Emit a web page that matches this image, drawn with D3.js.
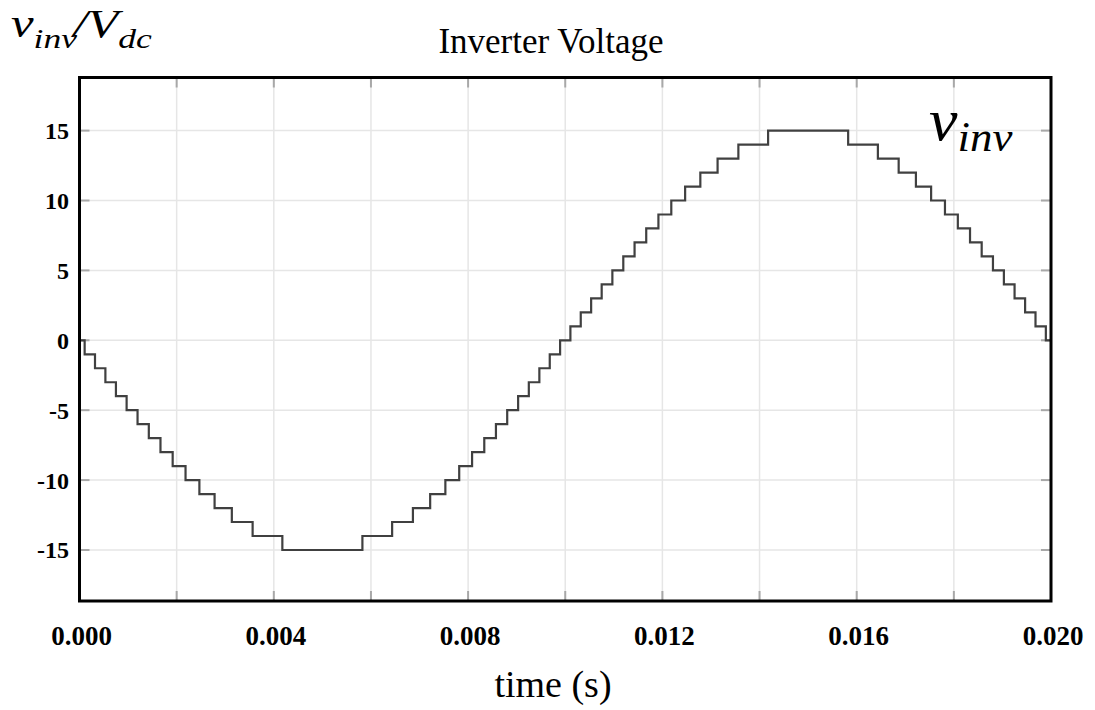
<!DOCTYPE html>
<html>
<head>
<meta charset="utf-8">
<script src="https://cdn.jsdelivr.net/npm/d3@7"></script>
<style>
  body { margin: 0; background: #fff; }
  svg text { font-family: "Liberation Serif", "Times New Roman", serif; }
</style>
</head>
<body>
<div id="chart"></div>
<script>
// step instants (s) of the inverter staircase and the level taken after each one
const stepTimes = [
    0.000106, 0.000319, 0.000533, 0.000750, 0.000970, 0.001195, 0.001427, 0.001667,
    0.001918, 0.002183, 0.002468, 0.002781, 0.003136, 0.003564, 0.004176,
    0.005824, 0.006436, 0.006864, 0.007219, 0.007532, 0.007817, 0.008082, 0.008333,
    0.008573, 0.008805, 0.009030, 0.009250, 0.009467, 0.009681, 0.009894,
    0.010106, 0.010319, 0.010533, 0.010750, 0.010970, 0.011195, 0.011427, 0.011667,
    0.011918, 0.012183, 0.012468, 0.012781, 0.013136, 0.013564, 0.014176,
    0.015824, 0.016436, 0.016864, 0.017219, 0.017532, 0.017817, 0.018082, 0.018333,
    0.018573, 0.018805, 0.019030, 0.019250, 0.019467, 0.019681, 0.019894
];
const stepLevels = [
    -1, -2, -3, -4, -5, -6, -7, -8, -9, -10, -11, -12, -13, -14, -15,
    -14, -13, -12, -11, -10, -9, -8, -7, -6, -5, -4, -3, -2, -1, 0,
    1, 2, 3, 4, 5, 6, 7, 8, 9, 10, 11, 12, 13, 14, 15,
    14, 13, 12, 11, 10, 9, 8, 7, 6, 5, 4, 3, 2, 1, 0
];
const startLevel = 0;
const tStart = 0, tEnd = 0.020;

const xTickLabels = [0.000, 0.004, 0.008, 0.012, 0.016, 0.020];
const xGridValues = [0.002, 0.004, 0.006, 0.008, 0.010, 0.012, 0.014, 0.016, 0.018];
const yTickValues = [-15, -10, -5, 0, 5, 10, 15];

const width = 1095, height = 710;
const plot = { left: 79.5, right: 1051, top: 77.5, bottom: 601 };

const svg = d3.select("#chart").append("svg")
    .attr("width", width)
    .attr("height", height);

const x = d3.scaleLinear()
    .domain([tStart, tEnd])
    .range([plot.left, plot.right]);

const y = d3.scaleLinear()
    .domain([-18.65, 18.8])
    .range([plot.bottom, plot.top]);

// grid
svg.append("g")
    .selectAll("line")
    .data(xGridValues)
    .join("line")
    .attr("x1", d => x(d)).attr("x2", d => x(d))
    .attr("y1", plot.top).attr("y2", plot.bottom)
    .attr("stroke", "#e6e6e6")
    .attr("stroke-width", 1.5);

svg.append("g")
    .selectAll("line")
    .data(yTickValues)
    .join("line")
    .attr("x1", plot.left).attr("x2", plot.right)
    .attr("y1", d => y(d)).attr("y2", d => y(d))
    .attr("stroke", "#e6e6e6")
    .attr("stroke-width", 1.5);

// small inner tick marks on all four sides
const tickLen = 10;
const ticks = svg.append("g").attr("stroke", "#a8a8a8").attr("stroke-width", 2);
ticks.selectAll(".tb").data(xGridValues).join("line")
    .attr("class", "tb")
    .attr("x1", d => x(d)).attr("x2", d => x(d))
    .attr("y1", plot.bottom).attr("y2", plot.bottom - tickLen);
ticks.selectAll(".tt").data(xGridValues).join("line")
    .attr("class", "tt")
    .attr("x1", d => x(d)).attr("x2", d => x(d))
    .attr("y1", plot.top).attr("y2", plot.top + tickLen);
ticks.selectAll(".tl").data(yTickValues).join("line")
    .attr("class", "tl")
    .attr("x1", plot.left).attr("x2", plot.left + tickLen)
    .attr("y1", d => y(d)).attr("y2", d => y(d));
ticks.selectAll(".tr").data(yTickValues).join("line")
    .attr("class", "tr")
    .attr("x1", plot.right).attr("x2", plot.right - tickLen)
    .attr("y1", d => y(d)).attr("y2", d => y(d));

// waveform
const points = [[tStart, startLevel]]
    .concat(stepTimes.map((t, i) => [t, stepLevels[i]]))
    .concat([[tEnd, stepLevels[stepLevels.length - 1]]]);

const line = d3.line()
    .x(d => x(d[0]))
    .y(d => y(d[1]))
    .curve(d3.curveStepAfter);

svg.append("path")
    .datum(points)
    .attr("d", line)
    .attr("fill", "none")
    .attr("stroke", "#404040")
    .attr("stroke-width", 2.2);

// frame
svg.append("rect")
    .attr("x", plot.left)
    .attr("y", plot.top)
    .attr("width", plot.right - plot.left)
    .attr("height", plot.bottom - plot.top)
    .attr("fill", "none")
    .attr("stroke", "#000")
    .attr("stroke-width", 3);

// tick labels
svg.append("g")
    .selectAll("text")
    .data(yTickValues)
    .join("text")
    .attr("x", 69)
    .attr("y", d => y(d) + 8.5)
    .attr("text-anchor", "end")
    .attr("font-weight", "bold")
    .attr("font-size", 24)
    .text(d => String(d));

svg.append("g")
    .selectAll("text")
    .data(xTickLabels)
    .join("text")
    .attr("x", d => x(d) + 2)
    .attr("y", 645)
    .attr("text-anchor", "middle")
    .attr("font-weight", "bold")
    .attr("font-size", 27)
    .text(d => d3.format(".3f")(d));

// titles
svg.append("text")
    .attr("x", 551)
    .attr("y", 53)
    .attr("text-anchor", "middle")
    .attr("font-size", 35)
    .text("Inverter Voltage");

svg.append("text")
    .attr("x", 553)
    .attr("y", 697)
    .attr("text-anchor", "middle")
    .attr("font-size", 38)
    .text("time (s)");

// y label is drawn a bit wider than the font, as in the original
const yLab = svg.append("text")
    .attr("transform", "translate(11,37) scale(1.27,1)")
    .attr("font-style", "italic")
    .attr("font-size", 40);
yLab.append("tspan").text("v");
yLab.append("tspan").attr("font-size", 28).attr("dy", 11).text("inv");
yLab.append("tspan").attr("dy", -11).attr("dx", -3).text("/V");
yLab.append("tspan").attr("font-size", 28).attr("dy", 11).text("dc");

const vLab = svg.append("text")
    .attr("transform", "translate(929,140) scale(1.07,1)")
    .attr("font-style", "italic")
    .attr("font-size", 60);
vLab.append("tspan").text("v");
vLab.append("tspan").attr("font-size", 42).attr("dy", 11).text("inv");
</script>
</body>
</html>
